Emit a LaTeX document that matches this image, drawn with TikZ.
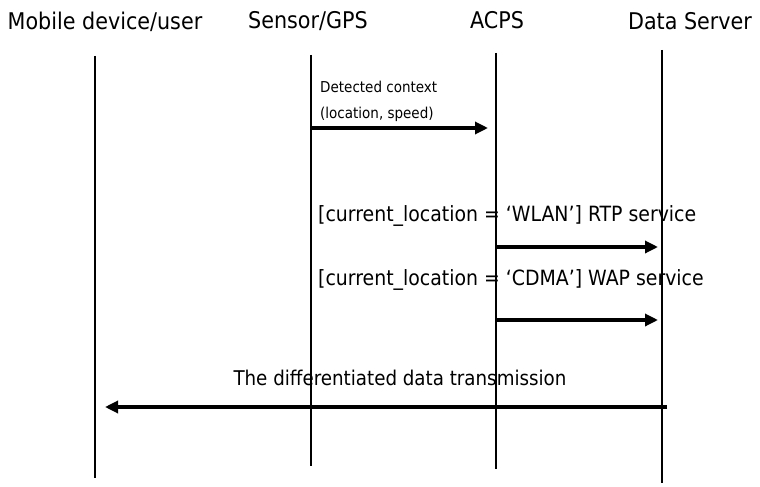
\documentclass[tikz,border=0pt]{standalone}
\usepackage{fontspec}
\setmainfont{DejaVu Sans Condensed}
\usetikzlibrary{arrows.meta}
\begin{document}
\begin{tikzpicture}[x=1pt,y=-1pt,
  head/.style={font=\fontsize{23}{26}\selectfont, inner sep=0pt, anchor=base},
  lbl/.style={font=\fontsize{21}{24}\selectfont, inner sep=0pt, anchor=west},
  small/.style={font=\fontsize{15}{18}\selectfont, inner sep=0pt, anchor=west},
  life/.style={line width=1.5pt},
  msg/.style={line width=3.2pt, -{Triangle[length=13pt,width=12pt]}}]
\useasboundingbox (0,0) rectangle (760,487);
% headers
\node[head] (hm) at (105,30) {Mobile device/user};
\node[head] (hs) at (308,29) {Sensor/GPS};
\node[head] (ha) at (497,29) {ACPS};
\node[head] (hd) at (690,30) {Data Server};
% lifelines
\coordinate (m1) at (95,56); \coordinate (m2) at (95,478);
\coordinate (s1) at (311,55); \coordinate (s2) at (311,466);
\coordinate (a1) at (496,53); \coordinate (a2) at (496,469);
\coordinate (d1) at (662,50); \coordinate (d2) at (662,483);
\draw[life] (m1) -- (m2);
\draw[life] (s1) -- (s2);
\draw[life] (a1) -- (a2);
\draw[life] (d1) -- (d2);
% message 1
\node[small] (t1a) at (320,87) {Detected context};
\node[small] (t1b) at (320,114) {(location, speed)};
\coordinate (p1) at (311,128); \coordinate (q1) at (488,128);
\draw[msg] (p1) -- (q1);
% message 2
\node[lbl] (t2) at (318,216) {[current\_location = ‘WLAN’] RTP service};
\coordinate (p2) at (496,247); \coordinate (q2) at (658,247);
\draw[msg] (p2) -- (q2);
% message 3
\node[lbl] (t3) at (318,280) {[current\_location = ‘CDMA’] WAP service};
\coordinate (p3) at (496,320); \coordinate (q3) at (658,320);
\draw[msg] (p3) -- (q3);
% message 4
\node[lbl, anchor=center, font=\fontsize{20.3}{24}\selectfont] (t4) at (400,378) {The differentiated data transmission};
\coordinate (p4) at (667,407); \coordinate (q4) at (105,407);
\draw[msg] (p4) -- (q4);
\end{tikzpicture}
\end{document}
